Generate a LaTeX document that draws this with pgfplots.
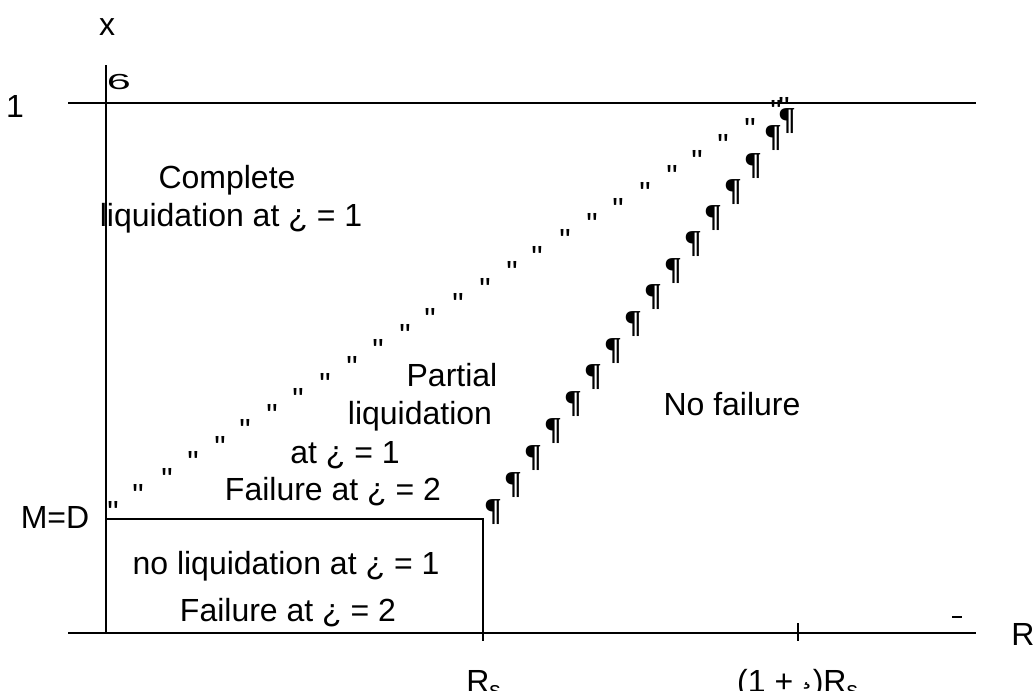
\documentclass[border=0pt]{standalone}
\usepackage{fontspec}
\setmainfont{Liberation Sans}
\newfontfamily\qfont[Ligatures=TeXOff]{Liberation Sans}
\newfontfamily\pfont{Liberation Serif}
\usepackage{pgfplots}
\pgfplotsset{compat=1.18}
\begin{document}
\begin{tikzpicture}[every node/.style={font=\fontsize{16}{19}\selectfont, inner sep=0pt}]
\begin{axis}[width=517pt, height=345.5pt, scale only axis,
  xmin=0, xmax=1034, ymin=0, ymax=691, y dir=reverse,
  axis lines=none, clip=false]
% axes and region boundaries
\addplot[black, line width=1pt] coordinates {(106,65) (106,633)};
\addplot[black, line width=1pt] coordinates {(68,633) (976,633)};
\addplot[black, line width=1pt] coordinates {(68,103) (976,103)};
\addplot[black, line width=1pt] coordinates {(106,519) (483,519) (483,641)};
\addplot[black, line width=1pt] coordinates {(798,623) (798,641)};
\addplot[black, line width=0.6pt] coordinates {(952,617) (962,617)};
% upper dotted boundary
\addplot[only marks, mark=text, text mark={\fontsize{16}{19}\selectfont\qfont\raisebox{-9.4pt}{"}}, text mark style={base}] coordinates {
(113,505) (138,488) (167,472) (193,455) (220,440) (245,423) (272,408) (298,392)
(325,377) (352,360) (378,343) (405,328) (430,312) (458,297) (485,282) (512,265)
(537,250) (565,233) (592,217) (618,202) (645,186) (672,169) (697,154) (723,138)
(750,122) (776,104) (784,101)};
% lower boundary
\addplot[only marks, mark=text, text mark={\fontsize{16}{19}\selectfont\pfont\bfseries\raisebox{-3.6pt}{¶}}, text mark style={base}] coordinates {
(493,513) (513,486) (533,459) (553,432) (573,405) (593,378) (613,352) (633,325)
(653,298) (673,272) (693,245) (713,219) (733,193) (753,167) (773,139) (787,122)};
% labels
\node[anchor=base] at (axis cs:107,35) {x};
\node[anchor=base] at (axis cs:15,117) {1};
\node[anchor=base] at (axis cs:55,528) {M=D};
\node[xscale=1.35, yscale=0.68] at (axis cs:119,82) {6};
\node[anchor=base] at (axis cs:1023,645) {R};
\node[anchor=base] at (axis cs:484,692) {R\textsubscript{s}};
\node[anchor=base] at (axis cs:798,692) {(1 + \raisebox{0.3em}{¸})R\textsubscript{s}};
\node[anchor=base] at (axis cs:227,188) {Complete};
\node[anchor=base] at (axis cs:231,226) {liquidation at ¿ = 1};
\node[anchor=base] at (axis cs:452,386) {Partial};
\node[anchor=base] at (axis cs:420,424) {liquidation};
\node[anchor=base] at (axis cs:345,463) {at ¿ = 1};
\node[anchor=base] at (axis cs:333,500) {Failure at ¿ = 2};
\node[anchor=base] at (axis cs:732,415) {No failure};
\node[anchor=base] at (axis cs:286,574) {no liquidation at ¿ = 1};
\node[anchor=base] at (axis cs:288,621) {Failure at ¿ = 2};
\end{axis}
\pgfresetboundingbox
\path (current axis.south west) rectangle (current axis.north east);
\end{tikzpicture}
\end{document}
